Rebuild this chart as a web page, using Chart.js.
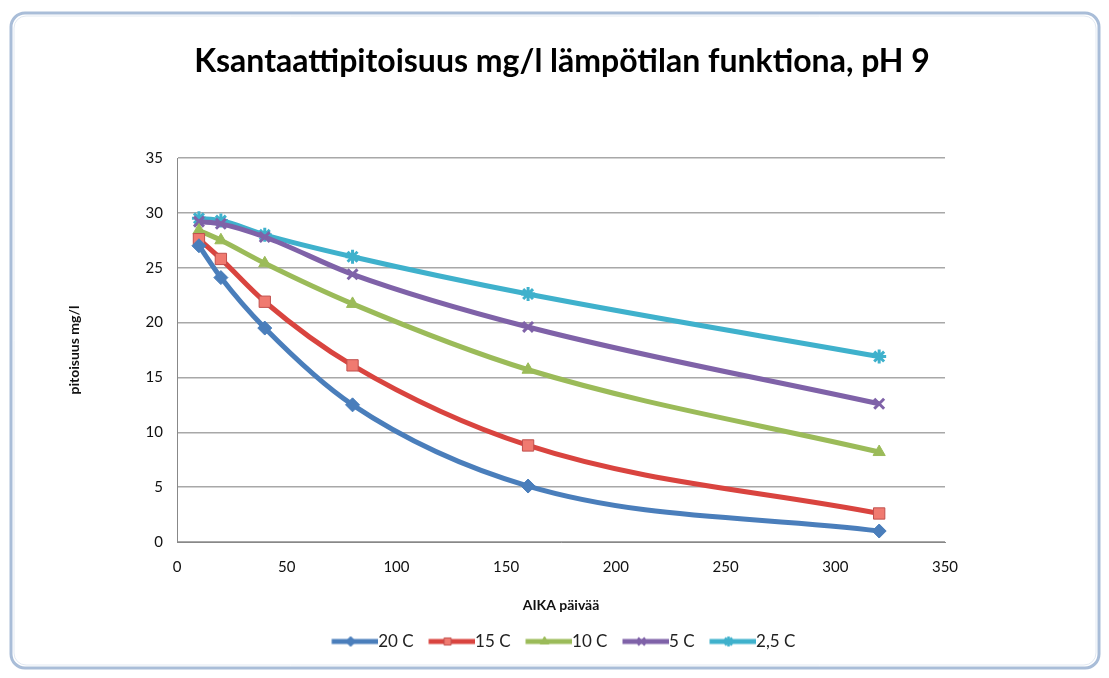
<!DOCTYPE html>
<html><head><meta charset="utf-8">
<script src="https://cdn.jsdelivr.net/npm/chart.js@4"></script>
<style>html,body{margin:0;padding:0;background:#fff;}#wrap{width:1109px;height:678px;position:relative;}</style>
</head><body><div id="wrap"><canvas id="c" width="1109" height="678"></canvas></div>
<script>
const titleText = 'Ksantaattipitoisuus mg/l lämpötilan funktiona, pH 9';
const days = [10, 20, 40, 80, 160, 320];
const s20 = [27.0, 24.1, 19.5, 12.5, 5.1, 1.0];
const s15 = [27.6, 25.8, 21.9, 16.1, 8.8, 2.6];
const s10 = [28.4, 27.5, 25.4, 21.7, 15.7, 8.2];
const s5 = [29.2, 29.0, 27.8, 24.4, 19.6, 12.6];
const s25 = [29.5, 29.3, 28.0, 26.0, 22.6, 16.9];
const seriesNames = ['20 C', '15 C', '10 C', '5 C', '2,5 C'];
const colors = ['#4a7ebb', '#d9443f', '#9bbb59', '#7f62a8', '#3fb1cc'];
const styles = ['rectRot', 'rect', 'triangle', 'crossRot', 'star'];
const seriesVals = [s20, s15, s10, s5, s25];

const LEG_FS = 17, LEG_PW = 38;
function legendImg(i) {
  const cv = document.createElement('canvas');
  const W = LEG_PW + LEG_FS;
  cv.width = W; cv.height = 14;
  const c = cv.getContext('2d');
  c.strokeStyle = colors[i]; c.lineWidth = 5; c.lineCap = 'butt';
  c.beginPath(); c.moveTo(LEG_FS / 2, 7); c.lineTo(W, 7); c.stroke();
  c.fillStyle = i === 1 ? '#f07a70' : colors[i];
  c.strokeStyle = i === 1 ? '#c0504d' : colors[i];
  c.lineWidth = i >= 3 ? 2.5 : 1;
  Chart.helpers.drawPoint(c, {pointStyle: styles[i], radius: 5, borderWidth: c.lineWidth, rotation: 0}, LEG_FS / 2 + LEG_PW / 2, 7);
  return cv;
}

const datasets = seriesVals.map((vals, i) => ({
  label: seriesNames[i],
  data: days.map((d, j) => ({x: d, y: vals[j]})),
  borderColor: colors[i],
  backgroundColor: colors[i],
  borderWidth: 5,
  tension: 0.4,
  cubicInterpolationMode: 'monotone',
  pointStyle: styles[i],
  pointRadius: i === 1 ? 8 : 7,
  pointBorderColor: i === 1 ? '#c0504d' : colors[i],
  pointBackgroundColor: i === 1 ? '#f07a70' : colors[i],
  pointBorderWidth: (i >= 3) ? 3 : 1
}));

const framePlugin = {
  id: 'frame',
  afterLayout(chart) {
    const lg = chart.legend;
    if (lg) { lg.left += 60; lg.right += 60; }
  },
  beforeDraw(chart) {
    const ctx = chart.ctx;
    ctx.save();
    ctx.fillStyle = '#fff';
    ctx.fillRect(0, 0, chart.width, chart.height);
    ctx.strokeStyle = '#a9bdd8';
    ctx.lineWidth = 3;
    ctx.beginPath();
    ctx.roundRect(11, 13, 1088, 655, 14);
    ctx.stroke();
    ctx.strokeStyle = '#e2e9f2';
    ctx.lineWidth = 1;
    ctx.beginPath();
    ctx.roundRect(14, 16, 1082, 649, 12);
    ctx.stroke();
    ctx.fillStyle = '#000';
    ctx.font = 'bold 32px Lato';
    ctx.textAlign = 'center';
    ctx.textBaseline = 'middle';
    ctx.fillText(titleText, 562, 62);
    ctx.restore();
  }
};

new Chart(document.getElementById('c'), {
  type: 'line',
  data: {datasets},
  plugins: [framePlugin],
  options: {
    responsive: false,
    animation: false,
    devicePixelRatio: 1,
    layout: {padding: {left: 62, right: 164, top: 158, bottom: 18}},
    plugins: {
      title: {display: false},
      legend: {
        position: 'bottom',
        labels: {
          usePointStyle: true,
          pointStyleWidth: LEG_PW,
          color: '#222',
          font: {family: 'Lato', size: LEG_FS},
          padding: 15,
          generateLabels(chart) {
            return chart.data.datasets.map((ds, i) => ({
              text: ds.label,
              pointStyle: legendImg(i),
              fillStyle: colors[i], strokeStyle: colors[i], lineWidth: 0,
              datasetIndex: i, hidden: false, fontColor: '#222'
            }));
          }
        }
      },
      tooltip: {enabled: false}
    },
    scales: {
      x: {
        type: 'linear', min: 0, max: 350,
        ticks: {stepSize: 50, color: '#111', font: {family: 'Lato', size: 15}, padding: 16},
        grid: {display: false, drawTicks: false},
        border: {color: '#888', width: 1},
        title: {display: true, text: 'AIKA päivää', color: '#111', font: {family: 'Lato', size: 14, weight: 'bold'}, padding: {top: 15}},
        afterFit(s) { s.height = 76; }
      },
      y: {
        min: 0, max: 35,
        ticks: {stepSize: 5, color: '#111', font: {family: 'Lato', size: 15}, padding: 14},
        grid: {color: '#a8a8a8', lineWidth: 1.5, drawTicks: false},
        border: {color: '#888', width: 1},
        title: {display: true, text: 'pitoisuus mg/l', color: '#111', font: {family: 'Lato', size: 14, weight: 'bold'}},
        afterFit(s) { s.width = 115; }
      }
    }
  }
});
</script>
</body></html>
